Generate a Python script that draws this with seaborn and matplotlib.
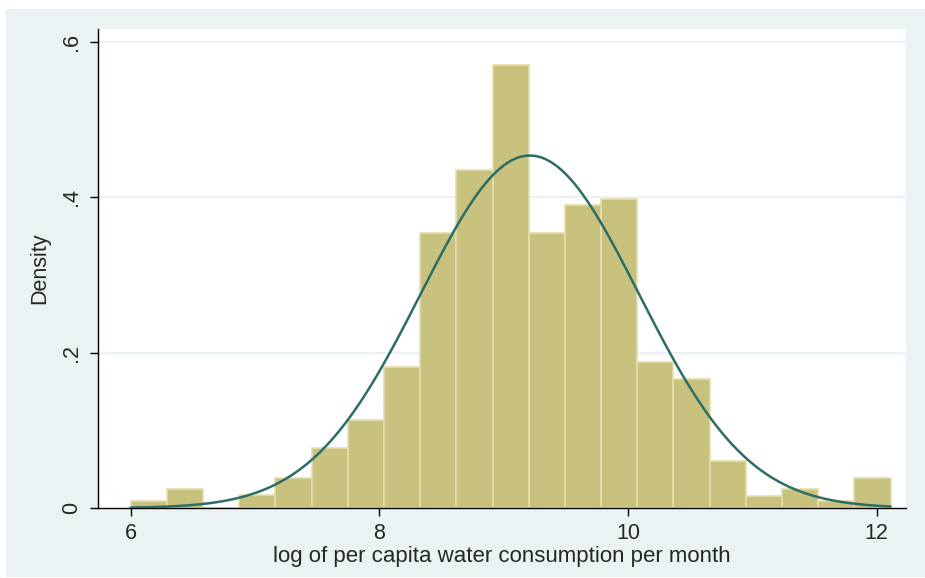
import numpy as np
import pandas as pd
import matplotlib
matplotlib.use("Agg")
import matplotlib.pyplot as plt
import seaborn as sns
from matplotlib.patches import Rectangle

# ---- data ----
bin_start = 6.0
bin_width = 0.291
densities = [0.009, 0.024, 0.0, 0.017, 0.039, 0.077, 0.113, 0.181, 0.354,
             0.435, 0.570, 0.354, 0.390, 0.398, 0.188, 0.166, 0.061, 0.016,
             0.024, 0.009, 0.039]
normal_mean = 9.21
normal_sd = 0.879
x_ticks = [6, 8, 10, 12]
y_ticks = [0, 0.2, 0.4, 0.6]
y_ticklabels = ["0", ".2", ".4", ".6"]
x_label = "log of per capita water consumption per month"
y_label = "Density"

n_bins = len(densities)
edges = [float(bin_start + bin_width * i) for i in range(n_bins + 1)]
centers = [(edges[i] + edges[i + 1]) / 2 for i in range(n_bins)]
df = pd.DataFrame({"x": centers, "density": densities})

xs = np.linspace(edges[0], edges[-1], 400)
pdf = np.exp(-0.5 * ((xs - normal_mean) / normal_sd) ** 2) / (normal_sd * np.sqrt(2 * np.pi))
curve = pd.DataFrame({"x": xs, "pdf": pdf})

sns.set_theme(style="white")
plt.rcParams["font.family"] = ["Liberation Sans", "DejaVu Sans"]

bg = "#EAF2F3"
fig = plt.figure(figsize=(9.25, 5.78), dpi=100)
fig.patch.set_facecolor("white")
bgrect = Rectangle((6 / 925, 1 - 577 / 578), 1 - 6 / 925, (577 - 9) / 578,
                   transform=fig.transFigure, facecolor=bg, edgecolor="none", zorder=-10)
fig.add_artist(bgrect)

ax = fig.add_axes([97.7 / 925, 1 - 508 / 578, (906 - 97.7) / 925, (508 - 29.3) / 578])
ax.set_zorder(1)
ax.set_facecolor("white")

for yv in y_ticks[1:]:
    ax.axhline(yv, color=bg, lw=1.6, zorder=0)

sns.histplot(data=df, x="x", weights="density", bins=edges, stat="count",
             color="#C9C27E", edgecolor="#E4DEAE", linewidth=1.2, alpha=1.0, ax=ax, zorder=2)
sns.lineplot(data=curve, x="x", y="pdf", color="#2C6E65", linewidth=1.8, ax=ax, zorder=3)

ax.set_xlim(5.735, 12.235)
ax.set_ylim(0, 0.6164)
ax.set_xticks(x_ticks)
ax.set_xticklabels([str(t) for t in x_ticks], fontsize=15.5)
ax.set_yticks(y_ticks)
ax.set_yticklabels(y_ticklabels, fontsize=15.5, rotation=90, va="center")
ax.tick_params(axis="both", direction="out", length=6, width=1, color="black", pad=5,
               bottom=True, left=True)
ax.set_xlabel(x_label, fontsize=16, labelpad=1)
ax.set_ylabel(y_label, fontsize=15.5, labelpad=8)

for s in ["top", "right"]:
    ax.spines[s].set_visible(False)
for s in ["left", "bottom"]:
    ax.spines[s].set_visible(True)
    ax.spines[s].set_color("black")
    ax.spines[s].set_linewidth(1.0)

fig.savefig("out.png", dpi=100, facecolor=fig.get_facecolor())
